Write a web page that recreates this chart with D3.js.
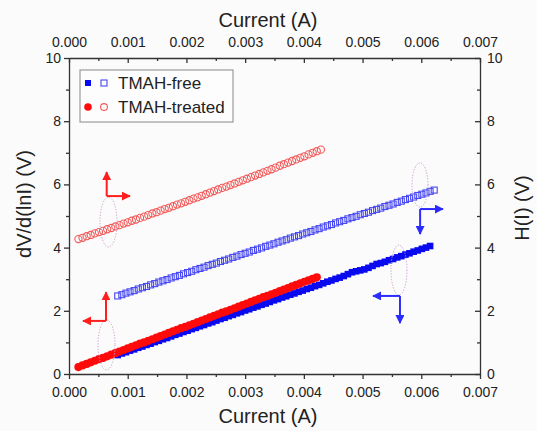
<html>
<head>
<script src="https://d3js.org/d3.v7.min.js"></script>
<style>
    body{margin:0;background:#fff;}
    text{font-family:"Liberation Sans",Arial,sans-serif;fill:#222;}
    .axis path,.axis line{stroke:#333;stroke-width:1.3px;}
    .axis text{font-size:14px;fill:#222;font-family:"Liberation Sans",Arial,sans-serif;}
    .minor path{display:none;}
</style>
</head>
<body>
<script>
// tick values
var xTicks = [0, 0.001, 0.002, 0.003, 0.004, 0.005, 0.006, 0.007];
var xMinor = [0.0005, 0.0015, 0.0025, 0.0035, 0.0045, 0.0055, 0.0065];
var yTicks = [0, 2, 4, 6, 8, 10];
var yMinor = [1, 3, 5, 7, 9];

// TMAH-treated (current in mA)
var curRed = [0.16,0.23,0.30,0.37,0.44,0.51,0.58,0.65,0.72,0.79,0.86,0.93,1.00,1.07,1.14,1.21,1.28,1.35,1.42,1.49,
              1.56,1.63,1.70,1.77,1.84,1.91,1.98,2.05,2.12,2.19,2.26,2.33,2.40,2.47,2.54,2.61,2.68,2.75,2.82,2.89,
              2.96,3.03,3.10,3.17,3.24,3.31,3.38,3.45,3.52,3.59,3.66,3.73,3.80,3.87,3.94,4.01,4.08,4.15,4.22,4.29];
var dvRed = [0.22,0.27,0.32,0.37,0.42,0.47,0.51,0.56,0.61,0.66,0.71,0.76,0.81,0.86,0.91,0.96,1.00,1.05,1.10,1.15,
             1.20,1.25,1.30,1.35,1.40,1.45,1.49,1.54,1.59,1.64,1.69,1.74,1.79,1.84,1.89,1.94,1.98,2.03,2.08,2.13,
             2.18,2.23,2.28,2.33,2.38,2.43,2.47,2.52,2.57,2.62,2.67,2.72,2.77,2.82,2.87,2.92,2.96,3.01,3.06];
var hRed = [4.27,4.31,4.36,4.40,4.45,4.49,4.53,4.58,4.62,4.67,4.71,4.76,4.80,4.85,4.89,4.94,4.98,5.03,5.08,5.12,
            5.17,5.22,5.26,5.31,5.36,5.40,5.45,5.50,5.55,5.59,5.64,5.69,5.74,5.79,5.84,5.89,5.93,5.98,6.03,6.08,
            6.13,6.18,6.23,6.28,6.33,6.38,6.43,6.48,6.53,6.59,6.64,6.69,6.74,6.79,6.84,6.89,6.95,7.00,7.05,7.10];

// TMAH-free (current in mA)
var curBlue = [0.83,0.90,0.97,1.04,1.11,1.18,1.25,1.32,1.39,1.46,1.53,1.60,1.67,1.74,1.81,1.88,1.95,2.02,2.09,2.16,
               2.23,2.30,2.37,2.44,2.51,2.58,2.65,2.72,2.79,2.86,2.93,3.00,3.07,3.14,3.21,3.28,3.35,3.42,3.49,3.56,
               3.63,3.70,3.77,3.84,3.91,3.98,4.05,4.12,4.19,4.26,4.33,4.40,4.47,4.54,4.61,4.68,4.75,4.82,4.89,4.96,
               5.03,5.10,5.17,5.24,5.31,5.38,5.45,5.52,5.59,5.66,5.73,5.80,5.87,5.94,6.01,6.08,6.15,6.22];
var dvBlue = [0.60,0.65,0.69,0.74,0.78,0.83,0.87,0.92,0.96,1.01,1.05,1.10,1.14,1.19,1.24,1.28,1.33,1.37,1.42,1.46,
              1.51,1.55,1.60,1.64,1.69,1.74,1.78,1.83,1.87,1.92,1.96,2.01,2.05,2.10,2.14,2.19,2.23,2.28,2.33,2.37,
              2.42,2.46,2.51,2.55,2.60,2.64,2.69,2.73,2.78,2.82,2.87,2.92,2.96,3.01,3.05,3.10,3.16,3.22,3.25,3.28,
              3.31,3.36,3.42,3.48,3.51,3.55,3.60,3.64,3.69,3.73,3.78,3.82,3.87,3.91,3.96,4.00,4.05];
var hBlue = [2.47,2.51,2.56,2.60,2.64,2.69,2.73,2.77,2.82,2.86,2.91,2.95,2.99,3.04,3.08,3.12,3.17,3.21,3.25,3.30,
             3.34,3.38,3.43,3.47,3.51,3.56,3.60,3.64,3.69,3.73,3.78,3.82,3.86,3.91,3.95,3.99,4.04,4.08,4.12,4.17,
             4.21,4.25,4.30,4.34,4.38,4.43,4.47,4.51,4.56,4.60,4.65,4.69,4.73,4.78,4.82,4.86,4.91,4.95,4.99,5.04,
             5.08,5.12,5.17,5.21,5.25,5.30,5.34,5.38,5.43,5.47,5.52,5.56,5.60,5.65,5.69,5.73,5.78,5.82];

// annotations (data units)
var ellipses = [
    {x:0.000673, y:4.81, rx:0.000145, ry:0.79},
    {x:0.000639, y:0.92, rx:0.000145, ry:0.79},
    {x:0.005978, y:5.98, rx:0.000136, ry:0.70},
    {x:0.005620, y:3.29, rx:0.000136, ry:0.79}
];
var arrows = [
    {x:0.000642, y:5.63, tipX:0.001039, tipY:6.39, c:"red"},
    {x:0.000630, y:1.68, tipX:0.000238, tipY:2.59, c:"red"},
    {x:0.005980, y:5.22, tipX:0.006369, tipY:4.43, c:"blue"},
    {x:0.005637, y:2.47, tipX:0.005178, tipY:1.61, c:"blue"}
];
var arrowColor = {red:"#ff1e1e", blue:"#2b2bff"};

var W = 537, H = 431;
var svg = d3.select("body").append("svg").attr("width", W).attr("height", H);
svg.append("rect").attr("width", W).attr("height", H).attr("fill", "#fbfbfb");

var x = d3.scaleLinear().domain([0, 0.007]).range([69, 480]);
var yL = d3.scaleLinear().domain([0, 10]).range([374, 58]);
var yR = d3.scaleLinear().domain([0, 10]).range([374, 58]);

// markers for arrows
var defs = svg.append("defs");
["red","blue"].forEach(function(k){
    defs.append("marker").attr("id","ah-"+k)
        .attr("viewBox","0 0 10 10").attr("refX",9).attr("refY",5)
        .attr("markerWidth",9).attr("markerHeight",9)
        .attr("markerUnits","userSpaceOnUse").attr("orient","auto")
        .append("path").attr("d","M0,0 L10,5 L0,10 z").attr("fill",arrowColor[k]);
});

// axes
var fmt = d3.format(".3f");
svg.append("g").attr("class","axis").attr("transform","translate(0,374)")
    .call(d3.axisBottom(x).tickValues(xTicks).tickFormat(fmt).tickSize(5).tickSizeOuter(0).tickPadding(8));
svg.append("g").attr("class","axis minor").attr("transform","translate(0,374)")
    .call(d3.axisBottom(x).tickValues(xMinor).tickFormat("").tickSize(3));
svg.append("g").attr("class","axis").attr("transform","translate(0,58)")
    .call(d3.axisTop(x).tickValues(xTicks).tickFormat(fmt).tickSize(-5).tickSizeOuter(0).tickPadding(11));
svg.append("g").attr("class","axis minor").attr("transform","translate(0,58)")
    .call(d3.axisTop(x).tickValues(xMinor).tickFormat("").tickSize(-3));
svg.append("g").attr("class","axis").attr("transform","translate(69,0)")
    .call(d3.axisLeft(yL).tickValues(yTicks).tickSize(5).tickSizeOuter(0).tickPadding(3));
svg.append("g").attr("class","axis minor").attr("transform","translate(69,0)")
    .call(d3.axisLeft(yL).tickValues(yMinor).tickFormat("").tickSize(3));
svg.append("g").attr("class","axis").attr("transform","translate(480,0)")
    .call(d3.axisRight(yR).tickValues(yTicks).tickSize(-5).tickSizeOuter(0).tickPadding(7));
svg.append("g").attr("class","axis minor").attr("transform","translate(480,0)")
    .call(d3.axisRight(yR).tickValues(yMinor).tickFormat("").tickSize(-3));

// axis titles
svg.append("text").attr("x",268).attr("y",27).attr("text-anchor","middle").style("font-size","20px").text("Current (A)");
svg.append("text").attr("x",268).attr("y",423).attr("text-anchor","middle").style("font-size","20px").text("Current (A)");
svg.append("text").attr("transform","translate(31,204) rotate(-90)").attr("text-anchor","middle").style("font-size","20px").text("dV/d(lnI) (V)");
svg.append("text").attr("transform","translate(529,208) rotate(-90)").attr("text-anchor","middle").style("font-size","20px").text("H(I) (V)");

// open series
svg.append("g").selectAll("circle").data(hRed).enter().append("circle")
    .attr("cx", function(d,i){ return x(curRed[i]/1000); })
    .attr("cy", function(d){ return yR(d); })
    .attr("r", 3.6).attr("fill","none").attr("stroke","#f25a5a").attr("stroke-width",1.1);
svg.append("g").selectAll("rect").data(hBlue).enter().append("rect")
    .attr("x", function(d,i){ return x(curBlue[i]/1000) - 3; })
    .attr("y", function(d){ return yR(d) - 3; })
    .attr("width", 6).attr("height", 6)
    .attr("fill","none").attr("stroke","#4646f2").attr("stroke-width",1.1);

// filled series
svg.append("g").selectAll("rect").data(dvBlue).enter().append("rect")
    .attr("x", function(d,i){ return x(curBlue[i]/1000) - 3.3; })
    .attr("y", function(d){ return yL(d) - 3.3; })
    .attr("width", 6.6).attr("height", 6.6).attr("fill","#0a0af0");
svg.append("g").selectAll("circle").data(dvRed).enter().append("circle")
    .attr("cx", function(d,i){ return x(curRed[i]/1000); })
    .attr("cy", function(d){ return yL(d); })
    .attr("r", 4.1).attr("fill","#ff0a0a");

// dotted ellipses
svg.append("g").selectAll("ellipse").data(ellipses).enter().append("ellipse")
    .attr("cx", function(d){ return x(d.x); })
    .attr("cy", function(d){ return yL(d.y); })
    .attr("rx", function(d){ return x(d.x + d.rx) - x(d.x); })
    .attr("ry", function(d){ return yL(d.y - d.ry) - yL(d.y); })
    .attr("fill","none").attr("stroke","#c89ac8").attr("stroke-width",1)
    .attr("stroke-dasharray","1.2,1.6");

// arrows
var ag = svg.append("g");
arrows.forEach(function(a){
    ag.append("line").attr("x1", x(a.x)).attr("y1", yL(a.y)).attr("x2", x(a.x)).attr("y2", yL(a.tipY))
        .attr("stroke", arrowColor[a.c]).attr("stroke-width", 2).attr("marker-end","url(#ah-"+a.c+")");
    ag.append("line").attr("x1", x(a.x)).attr("y1", yL(a.y)).attr("x2", x(a.tipX)).attr("y2", yL(a.y))
        .attr("stroke", arrowColor[a.c]).attr("stroke-width", 2).attr("marker-end","url(#ah-"+a.c+")");
});

// legend
var lg = svg.append("g");
lg.append("rect").attr("x",80).attr("y",70).attr("width",153).attr("height",52)
    .attr("fill","#fdfdfd").attr("stroke","#888").attr("stroke-width",1);
lg.append("rect").attr("x",85).attr("y",80).attr("width",6).attr("height",6).attr("fill","#0a0af0");
lg.append("rect").attr("x",101).attr("y",80).attr("width",6).attr("height",6).attr("fill","none").attr("stroke","#4646f2").attr("stroke-width",1.1);
lg.append("text").attr("x",118).attr("y",89).style("font-size","17px").text("TMAH-free");
lg.append("circle").attr("cx",88).attr("cy",107).attr("r",3.8).attr("fill","#ff0a0a");
lg.append("circle").attr("cx",104).attr("cy",107).attr("r",3.4).attr("fill","none").attr("stroke","#f25a5a").attr("stroke-width",1.1);
lg.append("text").attr("x",118).attr("y",113).style("font-size","17px").text("TMAH-treated");
</script>
</body>
</html>
